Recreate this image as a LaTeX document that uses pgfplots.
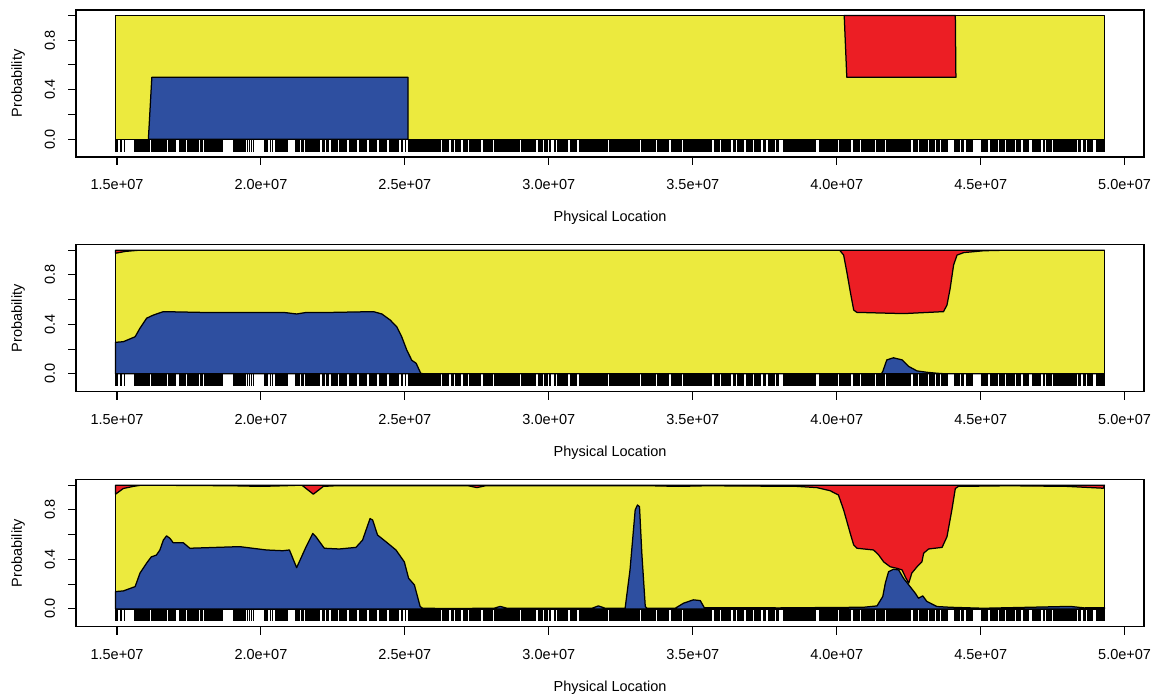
\documentclass[border=0pt]{standalone}
\usepackage{fontspec}
\setmainfont{Liberation Sans}
\usepackage{pgfplots}
\usepackage{pgfplotstable}
\pgfplotsset{compat=1.18}
\definecolor{cyel}{RGB}{236,234,62}
\definecolor{cblu}{RGB}{46,79,160}
\definecolor{cred}{RGB}{236,30,36}

% marker positions (Mb) for the rug
\pgfplotstableread[row sep=\\]{
x\\
14.95\\ 14.99\\ 15.13\\ 15.26\\
15.63\\ 15.68\\ 15.74\\ 15.79\\ 15.86\\ 15.90\\ 15.97\\ 16.02\\ 16.08\\ 16.13\\ 16.20\\ 16.25\\ 16.31\\ 16.38\\ 16.43\\ 16.49\\ 16.54\\ 16.61\\ 16.66\\ 16.72\\ 16.79\\ 16.84\\ 16.90\\ 16.96\\ 17.02\\
17.19\\ 17.25\\ 17.32\\ 17.38\\ 17.45\\ 17.51\\ 17.58\\ 17.64\\ 17.71\\ 17.77\\ 17.81\\
17.91\\ 17.97\\ 18.04\\ 18.10\\ 18.17\\ 18.23\\ 18.30\\ 18.36\\ 18.43\\ 18.50\\ 18.57\\ 18.64\\
19.07\\ 19.13\\ 19.20\\ 19.26\\ 19.33\\ 19.40\\ 19.46\\ 19.53\\ 19.60\\ 19.67\\ 19.74\\
20.14\\ 20.22\\ 20.33\\ 20.40\\
20.51\\ 20.57\\ 20.63\\ 20.70\\ 20.77\\ 20.84\\ 20.90\\
21.21\\ 21.27\\ 21.33\\
21.42\\ 21.48\\ 21.55\\ 21.61\\ 21.67\\ 21.71\\
21.76\\ 21.82\\ 21.89\\ 21.95\\ 22.02\\ 22.15\\ 22.21\\ 22.28\\ 22.34\\ 22.46\\ 22.52\\ 22.58\\ 22.63\\ 22.74\\ 22.80\\ 22.86\\ 22.92\\ 22.97\\ 23.09\\ 23.15\\ 23.21\\ 23.26\\ 23.31\\ 23.43\\ 23.49\\ 23.55\\ 23.61\\ 23.66\\ 23.78\\ 23.84\\ 23.90\\ 23.96\\ 24.01\\ 24.13\\ 24.19\\ 24.25\\ 24.31\\ 24.36\\ 24.48\\ 24.54\\ 24.60\\ 24.66\\ 24.72\\ 24.77\\ 24.89\\ 25.02\\ 25.14\\ 25.18\\
25.24\\ 25.30\\ 25.36\\ 25.43\\ 25.49\\ 25.55\\ 25.62\\ 25.68\\ 25.74\\ 25.80\\ 25.87\\ 25.93\\ 25.99\\ 26.05\\ 26.12\\ 26.18\\ 26.24\\ 26.31\\ 26.37\\ 26.44\\ 26.50\\
26.63\\ 26.69\\ 26.76\\ 26.82\\ 26.88\\ 26.93\\ 27.04\\ 27.10\\ 27.15\\ 27.27\\ 27.33\\ 27.39\\ 27.45\\ 27.51\\ 27.56\\ 27.61\\ 27.73\\ 27.79\\ 27.85\\ 27.91\\ 27.97\\ 28.02\\ 28.14\\ 28.20\\ 28.26\\ 28.32\\ 28.38\\ 28.44\\
28.48\\ 28.54\\ 28.60\\ 28.66\\ 28.72\\ 28.78\\ 28.84\\ 28.90\\ 28.95\\ 29.06\\ 29.12\\ 29.18\\ 29.24\\ 29.30\\ 29.36\\ 29.42\\ 29.47\\ 29.52\\ 29.64\\ 29.70\\ 29.75\\ 29.87\\ 29.93\\
30.05\\ 30.22\\
30.32\\ 30.38\\ 30.44\\ 30.50\\ 30.56\\ 30.62\\
30.75\\ 30.81\\ 30.87\\ 30.93\\
31.09\\ 31.15\\ 31.21\\ 31.27\\ 31.33\\ 31.39\\ 31.45\\ 31.51\\ 31.57\\ 31.63\\ 31.69\\ 31.75\\ 31.81\\ 31.87\\ 31.93\\ 31.99\\ 32.03\\
32.13\\ 32.19\\ 32.25\\ 32.31\\ 32.37\\ 32.43\\ 32.49\\ 32.55\\ 32.61\\ 32.67\\ 32.76\\ 32.82\\ 32.88\\ 32.94\\ 33.00\\ 33.06\\ 33.12\\ 33.22\\ 33.28\\ 33.34\\ 33.40\\ 33.46\\ 33.52\\ 33.58\\ 33.64\\ 33.70\\ 33.80\\ 33.86\\ 33.92\\ 33.98\\ 34.04\\ 34.10\\ 34.16\\ 34.27\\ 34.33\\ 34.39\\ 34.46\\
34.52\\ 34.60\\ 34.70\\ 34.76\\
34.81\\ 34.87\\ 34.93\\ 34.99\\ 35.05\\ 35.11\\ 35.17\\ 35.23\\ 35.29\\ 35.35\\ 35.41\\ 35.47\\ 35.53\\ 35.59\\ 35.65\\ 35.78\\ 35.84\\ 35.90\\ 36.01\\ 36.07\\ 36.13\\ 36.19\\ 36.23\\
36.29\\ 36.42\\ 36.47\\
36.58\\ 36.64\\ 36.70\\ 36.76\\ 36.88\\ 36.94\\ 37.00\\ 37.06\\ 37.17\\ 37.23\\ 37.29\\ 37.35\\ 37.46\\ 37.52\\ 37.63\\ 37.69\\ 37.75\\ 37.81\\ 37.92\\ 37.97\\
38.16\\ 38.22\\ 38.28\\ 38.34\\ 38.40\\ 38.46\\ 38.52\\ 38.58\\ 38.64\\ 38.70\\ 38.76\\ 38.82\\ 38.88\\ 38.94\\ 39.00\\ 39.06\\ 39.12\\ 39.18\\ 39.25\\
39.43\\ 39.49\\ 39.55\\ 39.61\\ 39.67\\
39.71\\ 39.77\\ 39.83\\ 39.89\\ 39.95\\ 40.01\\ 40.12\\ 40.18\\ 40.24\\ 40.30\\ 40.36\\ 40.42\\ 40.48\\ 40.59\\ 40.65\\ 40.71\\ 40.77\\ 40.88\\ 40.94\\ 41.00\\ 41.06\\ 41.12\\ 41.18\\ 41.24\\ 41.29\\ 41.40\\ 41.46\\ 41.52\\ 41.58\\ 41.64\\ 41.75\\ 41.81\\ 41.87\\ 41.93\\ 41.99\\ 42.03\\
42.09\\ 42.15\\ 42.21\\ 42.27\\ 42.33\\ 42.39\\ 42.45\\ 42.51\\ 42.56\\ 42.67\\ 42.73\\ 42.79\\ 42.90\\ 42.96\\ 43.02\\ 43.08\\ 43.14\\ 43.25\\ 43.31\\ 43.37\\ 43.48\\ 43.54\\ 43.66\\ 43.72\\ 43.78\\ 43.84\\
44.12\\ 44.18\\ 44.24\\ 44.34\\ 44.40\\ 44.51\\ 44.57\\ 44.63\\ 44.69\\
45.06\\ 45.12\\ 45.18\\ 45.23\\ 45.34\\ 45.40\\ 45.46\\ 45.52\\ 45.57\\ 45.68\\ 45.74\\ 45.80\\ 45.92\\ 45.98\\ 46.04\\ 46.10\\ 46.15\\ 46.26\\ 46.32\\ 46.38\\ 46.49\\ 46.55\\ 46.61\\ 46.65\\
46.83\\ 46.89\\ 46.95\\ 47.01\\ 47.07\\ 47.19\\ 47.31\\ 47.37\\ 47.43\\ 47.54\\ 47.60\\ 47.66\\ 47.72\\ 47.78\\ 47.84\\ 47.90\\ 47.96\\ 48.02\\ 48.08\\ 48.14\\ 48.20\\ 48.26\\
48.30\\ 48.40\\ 48.46\\ 48.57\\ 48.63\\ 48.74\\ 48.80\\ 48.86\\
49.05\\ 49.11\\ 49.17\\ 49.23\\ 49.29\\
}\rugdata

\pgfplotsset{
  panel/.style={
    width=1068pt, height=147pt, scale only axis, anchor=south west,
    xmin=13.576, xmax=50.674, ymin=-0.144, ymax=1.044,
    axis line style={line width=1.1pt},
    every tick/.style={black, line width=1.1pt},
    tick align=outside, major tick length=8pt,
    xtick={15,20,25,30,35,40,45,50},
    xticklabels={1.5e+07,2.0e+07,2.5e+07,3.0e+07,3.5e+07,4.0e+07,4.5e+07,5.0e+07},
    ytick={0,0.2,0.4,0.6,0.8,1},
    yticklabels={0.0,,0.4,,0.8,},
    xtick pos=left, ytick pos=left,
    tick label style={font=\fontsize{14.5}{16}\selectfont},
    xticklabel style={anchor=center, yshift=-19.5pt},
    yticklabel style={rotate=90, anchor=center, yshift=18pt},
    xlabel={Physical Location}, ylabel={Probability},
    label style={font=\fontsize{14.5}{16}\selectfont},
    xlabel style={at={(axis description cs:0.5,0)}, anchor=center, yshift=-61pt},
    ylabel style={at={(axis description cs:-0.0543,0.5)}, anchor=center},
    every axis plot/.append style={line width=1.25pt, line join=round},
  },
  rug/.style={ycomb, black, line width=1.8pt, no markers},
}

\begin{document}
\begin{tikzpicture}
\path[use as bounding box] (0,0) rectangle (1154pt,700pt);

% ---------- panel 1 ----------
\begin{axis}[panel, at={(76pt,543pt)}]
\addplot[fill=cyel, draw=black] coordinates {(14.95,0) (14.95,1) (49.30,1) (49.30,0)} -- cycle;
\addplot[fill=cblu, draw=black] coordinates {(16.09,0) (16.21,0.5) (25.11,0.5) (25.11,0)} -- cycle;
\addplot[fill=cred, draw=black] coordinates {(40.26,1) (40.35,0.5) (44.14,0.5) (44.12,1)} -- cycle;
\addplot[rug] table[x index=0, y index=0, y expr=-0.1] {\rugdata};
\end{axis}

% ---------- panel 2 ----------
\begin{axis}[panel, at={(76pt,308.3pt)}]
\addplot[fill=cyel, draw=black] coordinates {(14.95,0) (14.95,1) (49.30,1) (49.30,0)} -- cycle;
\addplot[fill=cblu, draw=black] coordinates {
(14.95,0) (14.95,0.255) (15.22,0.26) (15.63,0.30) (15.80,0.37) (16.03,0.45) (16.26,0.475) (16.61,0.503)
(17.88,0.497) (19.62,0.497) (20.78,0.497) (21.24,0.484) (21.59,0.497) (22.52,0.497) (23.91,0.503)
(24.20,0.484) (24.49,0.435) (24.72,0.38) (24.89,0.30) (25.07,0.19) (25.24,0.11) (25.39,0.086)
(25.55,0.005) (25.65,0) (41.55,0) (41.60,0.02) (41.74,0.113) (41.97,0.13) (42.27,0.113) (42.50,0.06)
(42.79,0.024) (43.13,0.013) (43.48,0.005) (43.80,0) (49.30,0)} -- cycle;
\addplot[fill=cred, draw=black] coordinates {
(14.95,1) (14.95,0.975) (15.30,0.99) (15.80,1.0) (40.10,1.0) (40.24,0.96) (40.35,0.825) (40.47,0.665)
(40.59,0.516) (40.70,0.497) (42.32,0.487) (43.71,0.503) (43.83,0.556) (43.94,0.69) (44.06,0.88)
(44.18,0.96) (44.41,0.98) (45.10,0.995) (46.00,1.0) (49.30,1.0)} -- cycle;
\addplot[rug] table[x index=0, y index=0, y expr=-0.1] {\rugdata};
\end{axis}

% ---------- panel 3 ----------
\begin{axis}[panel, at={(76pt,73.3pt)}]
\addplot[fill=cyel, draw=black] coordinates {(14.95,0) (14.95,1) (49.30,1) (49.30,0)} -- cycle;
\addplot[fill=cblu, draw=black] coordinates {
(14.95,0) (14.95,0.14) (15.22,0.145) (15.63,0.18) (15.80,0.29) (16.03,0.37) (16.19,0.42) (16.37,0.435)
(16.49,0.476) (16.61,0.556) (16.72,0.59) (16.84,0.57) (16.95,0.535) (17.30,0.535) (17.53,0.49)
(18.45,0.497) (19.26,0.503) (20.19,0.476) (20.76,0.47) (20.99,0.476) (21.24,0.333) (21.57,0.503)
(21.80,0.61) (21.91,0.583) (22.20,0.49) (22.72,0.484) (23.30,0.497) (23.53,0.556) (23.79,0.73)
(23.88,0.718) (24.05,0.597) (24.34,0.543) (24.69,0.476) (24.98,0.38) (25.13,0.247) (25.33,0.194)
(25.53,0.019) (25.62,0.005) (26.50,0.003) (28.10,0.005) (28.31,0.02) (28.55,0.005) (31.50,0.005)
(31.72,0.024) (31.96,0.005) (32.65,0.005) (32.82,0.315) (33.00,0.80) (33.08,0.84) (33.15,0.825)
(33.23,0.45) (33.35,0.02) (33.41,0.005) (34.39,0.005) (34.68,0.046) (35.02,0.073) (35.26,0.067)
(35.40,0.01) (38.00,0.008) (40.93,0.013) (41.40,0.024) (41.60,0.1) (41.69,0.21) (41.80,0.30)
(41.97,0.32) (42.15,0.315) (42.32,0.247) (42.50,0.194) (42.73,0.126) (42.84,0.086) (42.99,0.105)
(43.13,0.06) (43.48,0.019) (43.94,0.013) (45.09,0.005) (46.50,0.012) (48.11,0.02) (48.60,0.008)
(49.30,0.01) (49.30,0)} -- cycle;
\addplot[fill=cred, draw=black] coordinates {
(14.95,1) (14.95,0.927) (15.22,0.973) (15.57,0.99) (15.85,1.0) (19.00,0.995) (20.00,0.99) (20.80,0.995)
(21.42,1.0) (21.82,0.927) (22.17,0.99) (22.60,0.995) (27.20,0.995) (27.50,0.98) (27.80,0.995)
(30.00,0.996) (33.50,0.995) (34.50,0.99) (35.50,0.995) (38.62,0.99) (39.31,0.98) (39.77,0.955)
(40.06,0.92) (40.24,0.80) (40.47,0.61) (40.59,0.516) (40.70,0.49) (41.28,0.476) (41.46,0.435)
(41.63,0.38) (41.86,0.34) (42.09,0.328) (42.27,0.315) (42.38,0.26) (42.50,0.207) (42.61,0.29)
(42.79,0.34) (42.96,0.38) (43.02,0.45) (43.19,0.484) (43.66,0.497) (43.83,0.583) (44.00,0.80)
(44.12,0.973) (44.23,0.99) (46.00,0.995) (48.00,0.99) (49.26,0.975) (49.30,1)} -- cycle;
\addplot[rug] table[x index=0, y index=0, y expr=-0.1] {\rugdata};
\end{axis}
\end{tikzpicture}
\end{document}
